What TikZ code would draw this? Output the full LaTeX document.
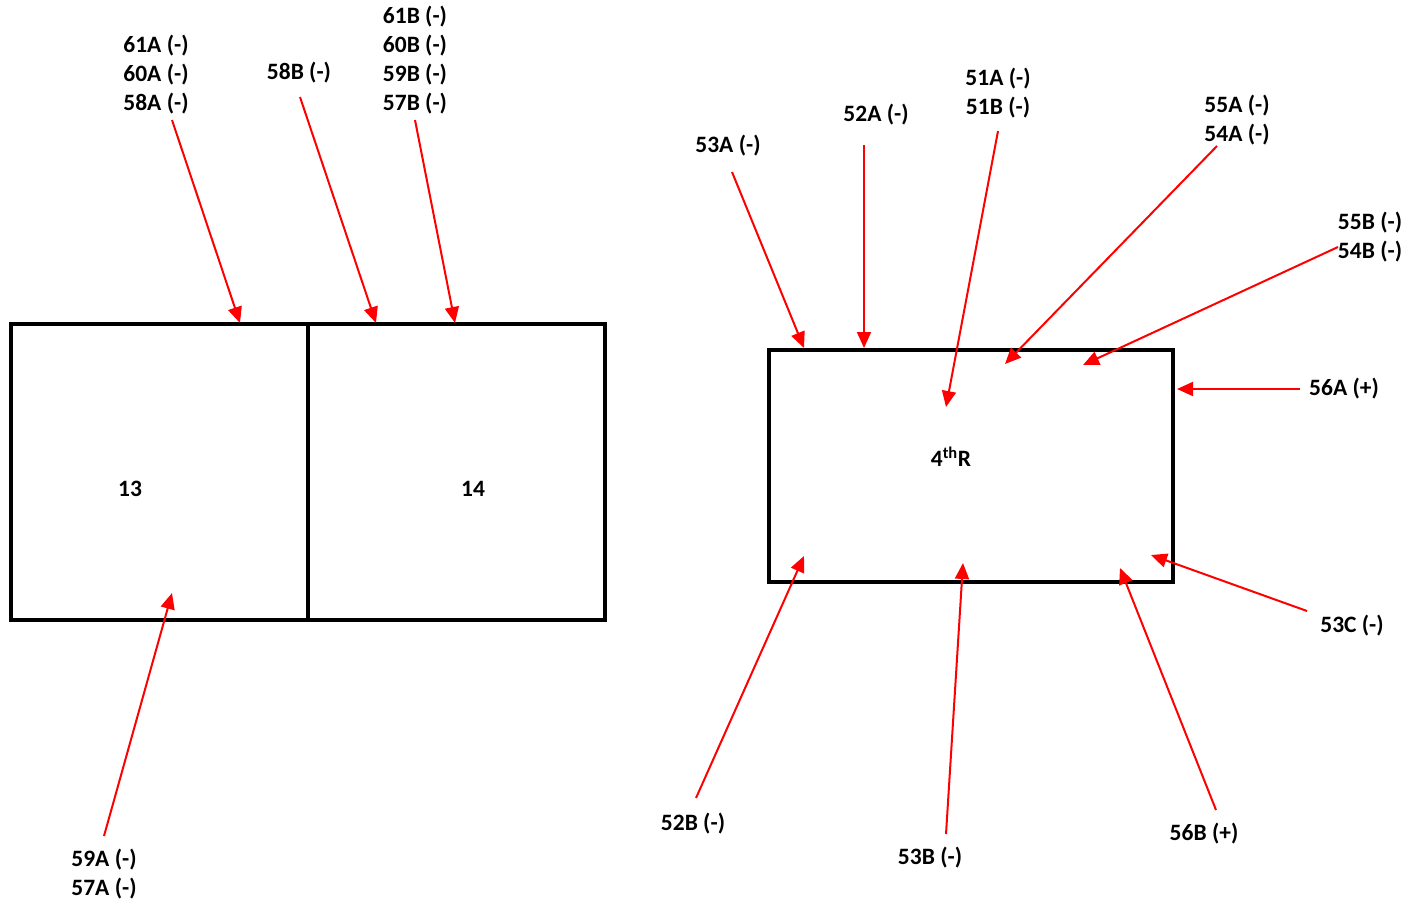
\documentclass[tikz,border=0pt]{standalone}
\usepackage{fontspec}
\setmainfont{Carlito}
\usetikzlibrary{arrows.meta}
\begin{document}
\begin{tikzpicture}[x=0.75pt,y=-0.75pt,
  lbl/.style={font=\fontsize{17.6}{21.75}\selectfont\bfseries, align=center, inner sep=0pt},
  boxline/.style={line width=3.2pt, line join=miter},
  wire/.style={draw=red, line width=1.5pt, -{Triangle[length=12pt,width=10.5pt]}}]
\useasboundingbox (0,0) rectangle (1408,903);
% boxes
\draw[boxline] (11,324) rectangle (605,620);
\draw[boxline] (308,324) -- (308,620);
\draw[boxline] (769,350) rectangle (1173,582);
\node[lbl] (b13) at (130,489) {13};
\node[lbl] (b14) at (473,489) {14};
\node[lbl] (b4r) at (951,457) {4\textsuperscript{th}R};
% labels
\node[lbl] (l1) at (156,75) {61A (-)\\60A (-)\\58A (-)};
\node[lbl] (l2) at (299,73) {58B (-)};
\node[lbl] (l3) at (415,60) {61B (-)\\60B (-)\\59B (-)\\57B (-)};
\node[lbl] (l4) at (104,874) {59A (-)\\57A (-)};
\node[lbl] (l5) at (728,146) {53A (-)};
\node[lbl] (l6) at (876,115) {52A (-)};
\node[lbl] (l7) at (998,93) {51A (-)\\51B (-)};
\node[lbl] (l8) at (1237,120) {55A (-)\\54A (-)};
\node[lbl] (l9) at (1370,237) {55B (-)\\54B (-)};
\node[lbl] (l10) at (1344,389) {56A (+)};
\node[lbl] (l11) at (1352,626) {53C (-)};
\node[lbl] (l12) at (693,824) {52B (-)};
\node[lbl] (l13) at (930,858) {53B (-)};
\node[lbl] (l14) at (1204,834) {56B (+)};
% start points
\coordinate (s1) at (172,120);
\coordinate (s2) at (300,97);
\coordinate (s3) at (415,120);
\coordinate (s4) at (104,836);
\coordinate (s5) at (732,172);
\coordinate (s6) at (864,145);
\coordinate (s7) at (998,131);
\coordinate (s8) at (1217,146);
\coordinate (s9) at (1338,247);
\coordinate (s10) at (1300,389);
\coordinate (s11) at (1307,611);
\coordinate (s12) at (696,798);
\coordinate (s13) at (946,834);
\coordinate (s14) at (1216,810);
% tips
\coordinate (t1) at (240,323);
\coordinate (t2) at (376,323);
\coordinate (t3) at (455,323);
\coordinate (t4) at (172,593);
\coordinate (t5) at (804,348);
\coordinate (t6) at (864,348);
\coordinate (t7) at (946,407);
\coordinate (t8) at (1005,364);
\coordinate (t9) at (1083,365);
\coordinate (t10) at (1177,389);
\coordinate (t11) at (1151,555);
\coordinate (t12) at (804,556);
\coordinate (t13) at (963,563);
\coordinate (t14) at (1120,568);
\foreach \i in {1,...,14} {\draw[wire] (s\i) -- (t\i);}
\end{tikzpicture}
\end{document}
